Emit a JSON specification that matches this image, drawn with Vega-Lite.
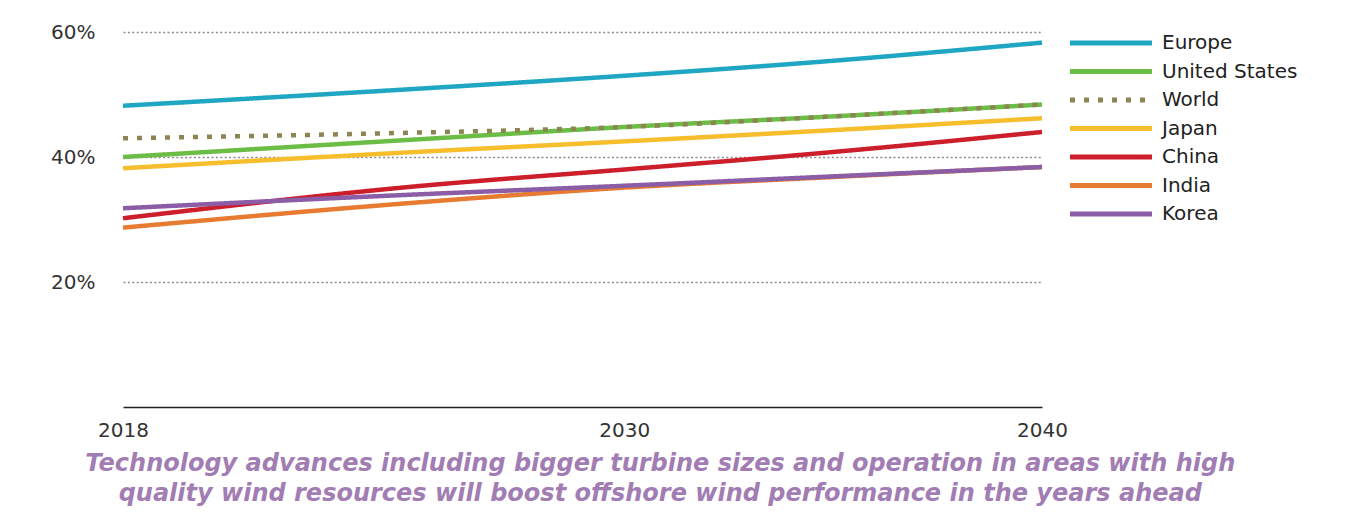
{
  "$schema": "https://vega.github.io/schema/vega-lite/v6.json",
  "width": 919,
  "height": 375,
  "padding": {"left": 23, "top": 22, "right": 0, "bottom": 0},
  "background": "white",
  "config": {
    "view": {"stroke": null},
    "font": "DejaVu Sans"
  },
  "title": {
    "text": ["Technology advances including bigger turbine sizes and operation in areas with high", "quality wind resources will boost offshore wind performance in the years ahead"],
    "orient": "bottom",
    "anchor": "middle",
    "frame": "bounds",
    "font": "DejaVu Sans",
    "fontSize": 24,
    "fontStyle": "italic",
    "fontWeight": "bold",
    "color": "#A27DB3",
    "lineHeight": 30,
    "offset": 12
  },
  "data": {
    "values": [
      {"region": "Europe", "year": 2018, "value": 48.2},
      {"region": "Europe", "year": 2025, "value": 50.9},
      {"region": "Europe", "year": 2030, "value": 53.0},
      {"region": "Europe", "year": 2035, "value": 55.4},
      {"region": "Europe", "year": 2040, "value": 58.3},
      {"region": "United States", "year": 2018, "value": 40.0},
      {"region": "United States", "year": 2025, "value": 42.8},
      {"region": "United States", "year": 2030, "value": 44.8},
      {"region": "United States", "year": 2035, "value": 46.5},
      {"region": "United States", "year": 2040, "value": 48.4},
      {"region": "World", "year": 2018, "value": 43.0},
      {"region": "World", "year": 2025, "value": 43.9},
      {"region": "World", "year": 2030, "value": 44.8},
      {"region": "World", "year": 2035, "value": 46.5},
      {"region": "World", "year": 2040, "value": 48.4},
      {"region": "Japan", "year": 2018, "value": 38.2},
      {"region": "Japan", "year": 2025, "value": 40.8},
      {"region": "Japan", "year": 2030, "value": 42.5},
      {"region": "Japan", "year": 2035, "value": 44.3},
      {"region": "Japan", "year": 2040, "value": 46.2},
      {"region": "China", "year": 2018, "value": 30.2},
      {"region": "China", "year": 2025, "value": 35.3},
      {"region": "China", "year": 2030, "value": 38.0},
      {"region": "China", "year": 2035, "value": 40.8},
      {"region": "China", "year": 2040, "value": 44.0},
      {"region": "India", "year": 2018, "value": 28.7},
      {"region": "India", "year": 2025, "value": 32.7},
      {"region": "India", "year": 2030, "value": 35.1},
      {"region": "India", "year": 2035, "value": 36.8},
      {"region": "India", "year": 2040, "value": 38.4},
      {"region": "Korea", "year": 2018, "value": 31.8},
      {"region": "Korea", "year": 2025, "value": 34.0},
      {"region": "Korea", "year": 2030, "value": 35.4},
      {"region": "Korea", "year": 2035, "value": 36.9},
      {"region": "Korea", "year": 2040, "value": 38.4}
    ]
  },
  "mark": {"type": "line", "strokeWidth": 4.5, "interpolate": "monotone"},
  "encoding": {
    "x": {
      "field": "year",
      "type": "quantitative",
      "scale": {"domain": [2018, 2040], "nice": false, "zero": false},
      "axis": {
        "title": null,
        "values": [2018, 2030, 2040],
        "format": "d",
        "grid": false,
        "ticks": false,
        "domain": true,
        "domainColor": "#222222",
        "domainWidth": 1.5,
        "labelFontSize": 20,
        "labelColor": "#333333",
        "labelPadding": 13,
        "labelFlush": false
      }
    },
    "y": {
      "field": "value",
      "type": "quantitative",
      "scale": {"domain": [0, 60], "nice": false},
      "axis": {
        "title": null,
        "values": [20, 40, 60],
        "labelExpr": "datum.value + '%'",
        "domain": false,
        "ticks": false,
        "grid": true,
        "gridColor": "#8a8a8a",
        "gridDash": [2, 2.4],
        "gridWidth": 1.5,
        "labelFontSize": 20,
        "labelColor": "#333333",
        "labelPadding": 28,
        "minExtent": 100,
        "maxExtent": 100
      }
    },
    "color": {
      "field": "region",
      "type": "nominal",
      "scale": {
        "domain": ["Europe", "United States", "World", "Japan", "China", "India", "Korea"],
        "range": ["#1EA6C2", "#6CBD45", "#8C8452", "#F6BE2C", "#CC1E2B", "#E77B31", "#8B5DA6"]
      },
      "legend": {
        "title": null,
        "orient": "none",
        "legendX": 944.5,
        "legendY": 1,
        "padding": 0,
        "symbolType": "stroke",
        "symbolSize": 6724,
        "symbolStrokeWidth": 5,
        "clipHeight": 20,
        "rowPadding": 8.5,
        "labelOffset": 7.5,
        "labelFontSize": 20,
        "labelColor": "#222222",
        "labelLimit": 300
      }
    },
    "strokeDash": {
      "field": "region",
      "type": "nominal",
      "scale": {
        "domain": ["Europe", "United States", "World", "Japan", "China", "India", "Korea"],
        "range": [[1, 0], [1, 0], [5, 9], [1, 0], [1, 0], [1, 0], [1, 0]]
      },
      "legend": {
        "title": null,
        "orient": "none",
        "legendX": 944.5,
        "legendY": 1,
        "padding": 0,
        "symbolType": "stroke",
        "symbolSize": 6724,
        "symbolStrokeWidth": 5,
        "clipHeight": 20,
        "rowPadding": 8.5,
        "labelOffset": 7.5,
        "labelFontSize": 20,
        "labelColor": "#222222",
        "labelLimit": 300
      }
    }
  }
}
